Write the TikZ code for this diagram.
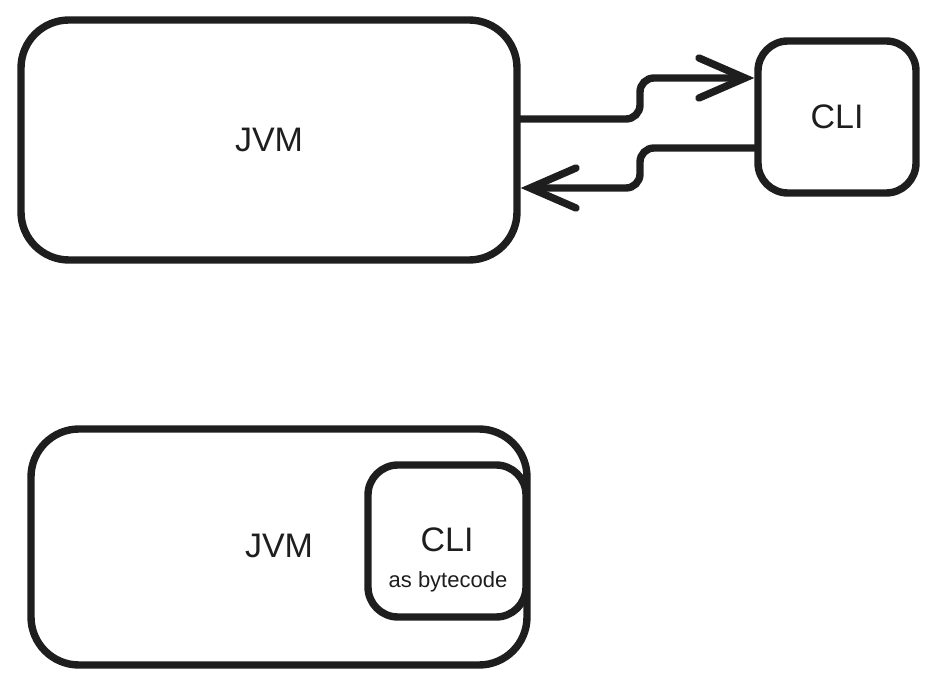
\documentclass[tikz,border=0pt]{standalone}
\usepackage{fontspec}
\setmainfont{Liberation Sans}
\usetikzlibrary{arrows.meta}
\definecolor{ink}{HTML}{1E1E1E}
\begin{document}
\begin{tikzpicture}[x=0.5pt,y=-0.5pt,line width=3.7pt,draw=ink,text=ink,
	bigbox/.style={draw=ink,rounded corners=24pt,minimum width=248pt,minimum height=120pt,inner sep=0pt,font=\fontsize{17}{20}\selectfont},
	smallbox/.style={draw=ink,rounded corners=15pt,minimum width=79pt,minimum height=76pt,inner sep=0pt,font=\fontsize{17}{20}\selectfont},
	flow/.style={draw=ink,rounded corners=7pt,line cap=round,-{Straight Barb[length=23pt,width=20pt,line cap=round]}}]

	\useasboundingbox (0,0) rectangle (936,689);

	\node[bigbox] (jvm)	at (269,140)	{JVM};
	\node[smallbox] (cli)	at (837,117)	{CLI};

	\draw[flow] ([yshift=10.5pt]jvm.east) -| (640,78) -- ([yshift=19.5pt]cli.west);
	\draw[flow] ([yshift=-15.5pt]cli.west) -| (640,188) -- ([yshift=-24pt]jvm.east);

	\node[bigbox,minimum height=118pt] (jvmin)	at (279,547)	{};
	\node at (279,546) (jvmtext) {\fontsize{17}{20}\selectfont JVM};
	\node[smallbox] (clin)	at (447,541)	{};
	\node (clitext) at (447,540) {\fontsize{17}{20}\selectfont CLI};
	\node (bytecode) at (448,582) {\fontsize{11}{13}\selectfont as bytecode};
\end{tikzpicture}
\end{document}
